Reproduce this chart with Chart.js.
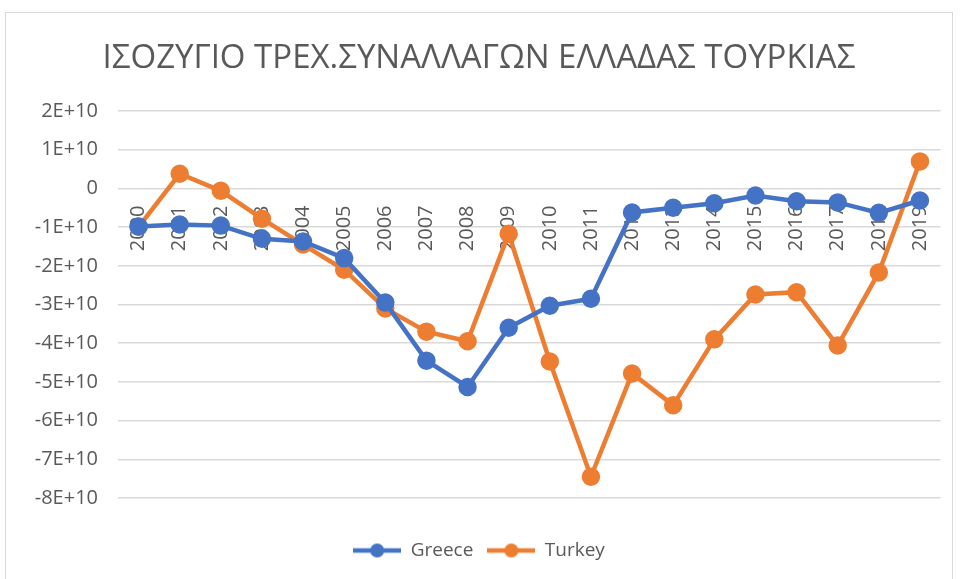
<!DOCTYPE html>
<html>
<head>
<meta charset="utf-8">
<script src="https://cdn.jsdelivr.net/npm/chart.js@4"></script>
<style>
  body { margin: 0; background: #fff; }
  #box { position: absolute; left: 5px; top: 12px; width: 946px; height: 580px; border: 1px solid #d9d9d9; overflow: hidden; }
</style>
</head>
<body>
<div id="box"><canvas id="chart" width="946" height="580"></canvas></div>
<script>
// ===== data =====
const years = ["2000","2001","2002","2003","2004","2005","2006","2007","2008","2009",
               "2010","2011","2012","2013","2014","2015","2016","2017","2018","2019"];
const greece = [-0.98e10, -0.93e10, -0.96e10, -1.3e10, -1.37e10, -1.8e10, -2.95e10, -4.45e10, -5.13e10, -3.6e10,
                -3.03e10, -2.85e10, -0.62e10, -0.5e10, -0.38e10, -0.18e10, -0.33e10, -0.36e10, -0.63e10, -0.31e10];
const turkey = [-0.99e10, 0.38e10, -0.06e10, -0.78e10, -1.45e10, -2.1e10, -3.1e10, -3.7e10, -3.95e10, -1.17e10,
                -4.47e10, -7.45e10, -4.78e10, -5.6e10, -3.9e10, -2.74e10, -2.68e10, -4.06e10, -2.17e10, 0.7e10];
const titleText = "ΙΣΟΖΥΓΙΟ ΤΡΕΧ.ΣΥΝΑΛΛΑΓΩΝ ΕΛΛΑΔΑΣ ΤΟΥΡΚΙΑΣ";

const BLUE = "#4472C4";
const ORANGE = "#ED7D31";
const TEXT = "#595959";
const FONT = "'Open Sans', 'Liberation Sans', sans-serif";

// legend marker: line with a dot in the middle
function legendMark(color) {
  const c = document.createElement("canvas");
  c.width = 48; c.height = 16;
  const g = c.getContext("2d");
  g.strokeStyle = color;
  g.lineWidth = 4.5;
  g.beginPath(); g.moveTo(0, 8); g.lineTo(48, 8); g.stroke();
  g.fillStyle = color;
  g.beginPath(); g.arc(24, 8, 7, 0, Math.PI * 2); g.fill();
  return c;
}

function fmt(v) {
  if (v === 0) return "0";
  return Math.round(v / 1e10) + "E+10";
}

new Chart(document.getElementById("chart"), {
  type: "line",
  data: {
    labels: years,
    datasets: [
      { label: "Greece", data: greece, borderColor: BLUE, backgroundColor: BLUE,
        borderWidth: 4.5, pointRadius: 7, pointHoverRadius: 7, pointStyle: "circle",
        tension: 0, legendMark: legendMark(BLUE) },
      { label: "Turkey", data: turkey, borderColor: ORANGE, backgroundColor: ORANGE,
        borderWidth: 4.5, pointRadius: 7, pointHoverRadius: 7, pointStyle: "circle",
        tension: 0, legendMark: legendMark(ORANGE) }
    ]
  },
  options: {
    responsive: false,
    animation: false,
    layout: { padding: { left: 10, right: 10, top: 0, bottom: 23 } },
    plugins: {
      tooltip: { enabled: false },
      title: {
        display: true,
        text: titleText,
        color: TEXT,
        font: { family: FONT, size: 33, weight: "normal" },
        padding: { top: 26, bottom: 32.5 }
      },
      legend: {
        position: "bottom",
        title: { display: true, text: "", font: { size: 10 }, padding: { top: 17, bottom: 0 } },
        labels: {
          color: TEXT,
          font: { family: FONT, size: 19 },
          usePointStyle: true,
          pointStyleWidth: 48,
          padding: 14,
          generateLabels(chart) {
            return chart.data.datasets.map((ds, i) => ({
              text: ds.label,
              pointStyle: ds.legendMark,
              fontColor: TEXT,
              datasetIndex: i,
              hidden: false
            }));
          }
        }
      }
    },
    scales: {
      x: {
        position: { y: 0 },
        offset: true,
        grid: { display: false, drawTicks: false },
        border: { display: false },
        ticks: {
          color: TEXT, font: { family: FONT, size: 20 },
          minRotation: 90, maxRotation: 90, padding: 17, autoSkip: false
        },
        afterFit(s) { s.paddingLeft = 0; s.paddingRight = 0; }
      },
      y: {
        min: -8e10, max: 2e10,
        grid: { color: "#d9d9d9", lineWidth: 1.5, drawTicks: false },
        border: { display: false },
        ticks: {
          stepSize: 1e10, color: TEXT, font: { family: FONT, size: 20 },
          padding: 20, callback: fmt
        },
        afterFit(s) { s.width = 102; }
      }
    }
  }
});
</script>
</body>
</html>
